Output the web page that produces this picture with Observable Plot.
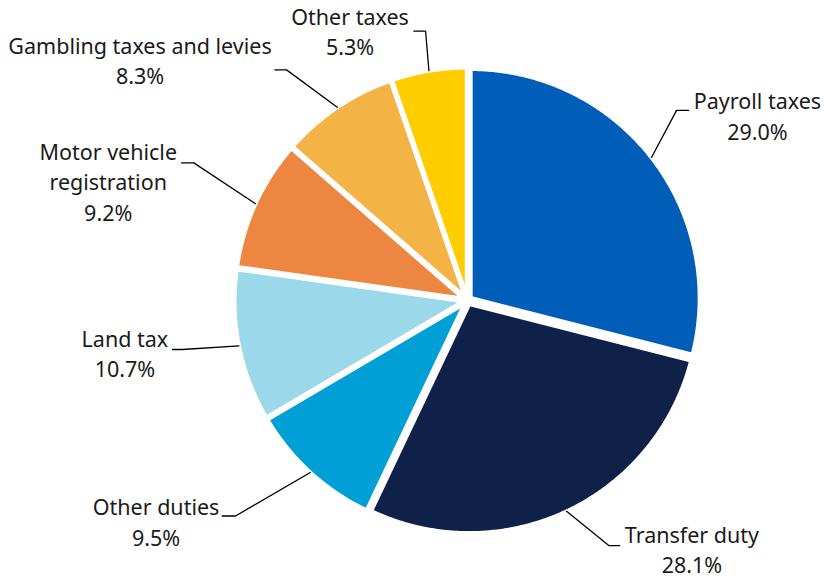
<!DOCTYPE html>
<html>
<head>
<meta charset="utf-8">
<script src="https://cdn.jsdelivr.net/npm/d3@7"></script>
<script src="https://cdn.jsdelivr.net/npm/@observablehq/plot@0.6"></script>
<style>
  html, body { margin: 0; padding: 0; background: #ffffff; }
  #chart svg { display: block; }
</style>
</head>
<body>
<div id="chart"></div>
<script>
// ---- Data ----
const categories = ["Payroll taxes", "Transfer duty", "Other duties", "Land tax", "Motor vehicle registration", "Gambling taxes and levies", "Other taxes"];
const shares = [29.0, 28.1, 9.5, 10.7, 9.2, 8.3, 5.3];
const labelLines = [
  ["Payroll taxes"], ["Transfer duty"], ["Other duties"], ["Land tax"],
  ["Motor vehicle", "registration"], ["Gambling taxes and levies"], ["Other taxes"]
];
const colors = ["#005EB8", "#0F2148", "#00A0D6", "#9AD8EA", "#ED8640", "#F4B345", "#FFCD00"];

// ---- Label layout (in pie units, radius = 1) ----
const labelLayout = [
  {elbow: [0.913, 0.830], end: [0.965, 0.830], text: [1.266, 0.703]},
  {elbow: [0.617, -1.070], end: [0.665, -1.070], text: [0.980, -1.190]},
  {elbow: [-1.013, -0.941], end: [-1.071, -0.941], text: [-1.360, -1.070]},
  {elbow: [-1.245, -0.214], end: [-1.288, -0.214], text: [-1.496, -0.335]},
  {elbow: [-1.195, 0.601], end: [-1.249, 0.601], text: [-1.569, 0.349]},
  {elbow: [-0.790, 1.007], end: [-0.841, 1.007], text: [-1.430, 0.946]},
  {elbow: [-0.183, 1.176], end: [-0.234, 1.176], text: [-0.513, 1.070]}
];

const cx = 467, cy = 300, R = 229;
const explode = 4 / R;
const total = d3.sum(shares);

const slices = [];
const leaders = [];
const labels = [];
let cum = 0;
categories.forEach((name, i) => {
  const a0 = cum / total * 2 * Math.PI;
  cum += shares[i];
  const a1 = cum / total * 2 * Math.PI;
  const am = (a0 + a1) / 2;
  const ox = Math.sin(am) * explode, oy = Math.cos(am) * explode;
  slices.push({name, x: ox, y: oy, color: colors[i]});
  const steps = Math.max(2, Math.ceil((a1 - a0) / (Math.PI / 360)));
  for (let k = 0; k <= steps; k++) {
    const a = a0 + (a1 - a0) * k / steps;
    slices.push({name, x: ox + Math.sin(a), y: oy + Math.cos(a), color: colors[i]});
  }
  slices.push({name, x: ox, y: oy, color: colors[i]});

  const L = labelLayout[i];
  leaders.push({name, x: ox + Math.sin(am), y: oy + Math.cos(am)});
  leaders.push({name, x: L.elbow[0], y: L.elbow[1]});
  leaders.push({name, x: L.end[0], y: L.end[1]});

  labels.push({x: L.text[0], y: L.text[1], text: [...labelLines[i], shares[i].toFixed(1) + "%"].join("\n")});
});

const chart = Plot.plot({
  width: 824,
  height: 579,
  margin: 0,
  style: {fontFamily: "'Noto Sans', 'Open Sans', sans-serif", background: "#ffffff"},
  x: {domain: [-1, 1], range: [cx - R, cx + R], axis: null},
  y: {domain: [-1, 1], range: [cy + R, cy - R], axis: null},
  color: {type: "identity"},
  marks: [
    Plot.line(slices, {x: "x", y: "y", z: "name", fill: "color", stroke: "#ffffff", strokeWidth: 4, strokeLinejoin: "round", curve: "linear"}),
    Plot.line(leaders, {x: "x", y: "y", z: "name", stroke: "#000000", strokeWidth: 1.3, strokeLinejoin: "miter", curve: "linear"}),
    Plot.text(labels, {x: "x", y: "y", text: "text", lineAnchor: "bottom", textAnchor: "middle", fontSize: 21.5, lineHeight: 1.4, fill: "#1a1a1a"})
  ]
});
document.getElementById("chart").appendChild(chart);
</script>
</body>
</html>
